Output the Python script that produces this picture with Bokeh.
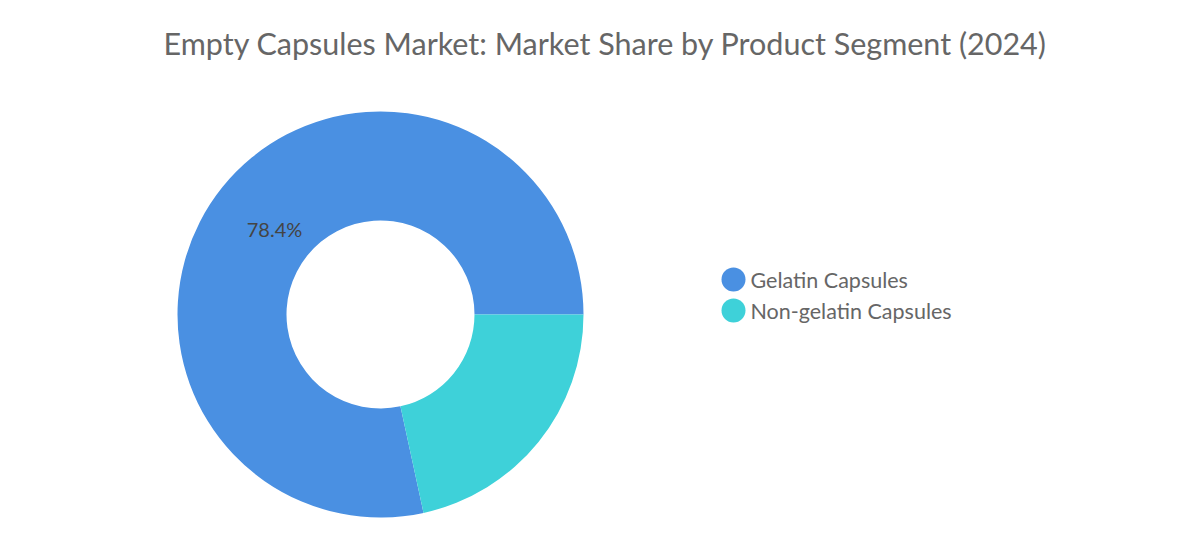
import math
from bokeh.plotting import figure
from bokeh.models import Range1d, ColumnDataSource
from bokeh.core.properties import value
from bokeh.embed import file_html
from bokeh.resources import INLINE

title = "Empty Capsules Market: Market Share by Product Segment (2024)"
segments = ["Gelatin Capsules", "Non-gelatin Capsules"]
shares = [78.4, 21.6]
colors = ["#4A90E2", "#3ED1D9"]

W, H = 1176, 527
p = figure(width=W, height=H, output_backend="svg", toolbar_location=None,
           x_range=Range1d(0, W), y_range=Range1d(0, H), min_border=0)
p.axis.visible = False
p.grid.visible = False
p.outline_line_color = None
p.background_fill_color = "white"
p.border_fill_color = "white"

cx, cy = 380, H - 314
r_out, r_in = 203, 94

total = sum(shares)
starts, ends = [], []
acc = 0.0
for s in shares:
    starts.append(2 * math.pi * acc / total)
    acc += s
    ends.append(2 * math.pi * acc / total)

src = ColumnDataSource(dict(seg=segments, share=shares, color=colors,
                            start=starts, end=ends))
p.annular_wedge(x=cx, y=cy, inner_radius=r_in, outer_radius=r_out,
                start_angle="start", end_angle="end", color="color",
                line_color="white", line_width=0, source=src)

# Label for largest segment
p.text(x=[cx - 106], y=[cy + 86], text=[f"{shares[0]}%"],
       text_font=value("Lato"), text_font_size="20px", text_color="#444444",
       text_align="center", text_baseline="middle")

# Title
p.text(x=[605], y=[H - 42], text=[title], text_font=value("Lato"),
       text_font_size="30.5px", text_color="#666666", text_align="center",
       text_baseline="middle")

# Legend
ly = [H - 279, H - 310]
p.scatter(x=[733, 733], y=ly, size=24, color=colors, line_color=None)
p.text(x=[750, 750], y=ly, text=segments, text_font=value("Lato"),
       text_font_size="21.5px", text_color="#666666", text_align="left",
       text_baseline="middle")

open("out.html", "w").write(file_html(p, INLINE))
